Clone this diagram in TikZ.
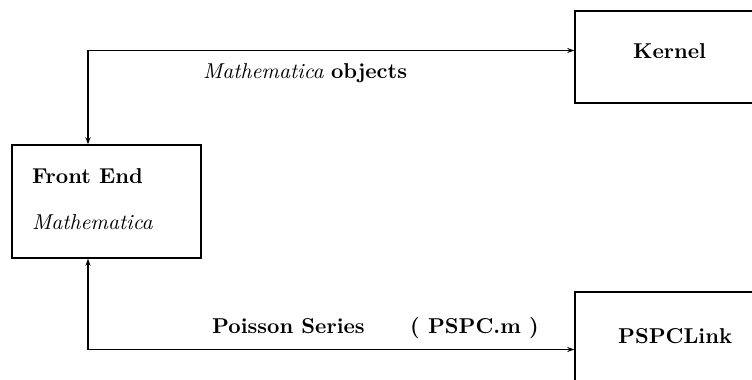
\documentclass[tikz,border=0pt]{standalone}
\usepackage{fontspec}
\setmainfont{lmroman10}[Extension=.otf, UprightFont=*-regular, BoldFont=*-bold, ItalicFont=*-italic, BoldItalicFont=*-bolditalic]
\usetikzlibrary{arrows.meta,calc}
\begin{document}
\begin{tikzpicture}[x=1pt,y=-1pt,
  box/.style={draw,line width=1.4pt,rectangle,inner sep=0pt},
  lbl/.style={anchor=base west,inner sep=0pt,font=\fontsize{21.5}{26}\selectfont},
  conn/.style={line width=1.3pt,{Stealth[length=7pt,width=5pt]}-{Stealth[length=7pt,width=5pt]}}]
\useasboundingbox (0,0) rectangle (752,380);
\clip (0,0) rectangle (752,380);
\node[box,minimum width=189pt,minimum height=113pt] (fe) at (106.5,201.5) {};
\node[box,minimum width=190pt,minimum height=92pt] (kernel) at (670,57) {};
\node[box,minimum width=190pt,minimum height=120pt] (pspc) at (670,352) {};
\node[lbl] (fetitle) at (32,183) {\bfseries Front End};
\node[lbl] (femath) at (32,229) {\itshape Mathematica};
\node[lbl] (kt) at (633,58) {\bfseries Kernel};
\node[lbl] (pt) at (618,343) {\bfseries PSPCLink};
\node[lbl] (mo) at (203,78) {\textit{Mathematica} \textbf{objects}};
\node[lbl] (ps) at (212,333) {\bfseries Poisson Series};
\node[lbl] (pm) at (410,333) {\bfseries ( PSPC.m )};
\draw[conn] ([xshift=-18.5pt]fe.north) |- ([yshift=6.5pt]kernel.west);
\draw[conn] ([xshift=-18.5pt]fe.south) |- ([yshift=2.5pt]pspc.west);
\end{tikzpicture}
\end{document}
